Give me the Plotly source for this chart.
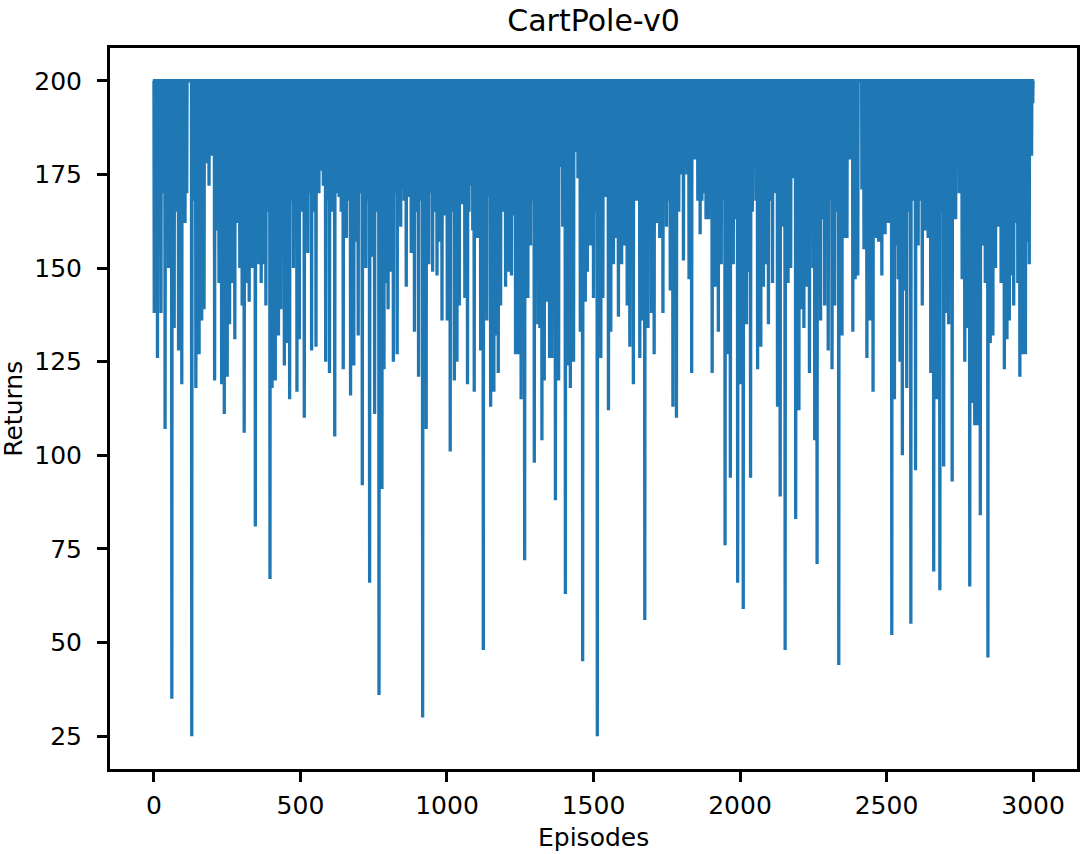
import plotly.graph_objects as go

# CartPole-v0 training returns.
# The episode return is capped at 200; the lists below hold the episodes
# that fell short of the cap and the return they reached.
MAX_RETURN = 200
N_EPISODES = 3000

dip_episodes = [
    1, 12, 24, 38, 50, 61, 69, 77, 84, 95, 106, 129, 143, 154, 163, 171, 180, 188, 197,
    207, 216, 222, 231, 240, 250, 258, 267, 276, 285, 293, 301, 308, 316, 325, 335, 340,
    346, 358, 366, 374, 382, 396, 403, 414, 425, 433, 445, 454, 463, 476, 488, 496,
    513, 525, 538, 553, 563, 570, 586, 599, 617, 632, 646, 657, 671, 682, 689, 697,
    711, 723, 736, 745, 753, 768, 778, 785, 793, 799, 806, 817, 830, 842, 847, 861,
    872, 878, 889, 903, 917, 929, 938, 951, 966, 974, 983, 993, 1001,
    1011, 1025, 1034, 1042, 1053, 1061, 1070, 1093, 1104, 1115, 1124, 1136, 1140, 1149,
    1160, 1169, 1175, 1183, 1200, 1211, 1220, 1226, 1234, 1242, 1253, 1265, 1276, 1285,
    1298, 1310, 1317, 1324, 1332, 1339, 1350, 1358, 1370, 1381, 1389, 1395, 1404, 1412,
    1421, 1432, 1441, 1447, 1455, 1463, 1472, 1479, 1489, 1500, 1513,
    1525, 1532, 1539, 1551, 1559, 1568, 1577, 1585, 1596, 1607, 1615, 1624, 1636, 1647,
    1658, 1666, 1675, 1686, 1698, 1707, 1718, 1726, 1737, 1749, 1762, 1771, 1783, 1800,
    1807, 1819, 1826, 1835, 1845, 1856, 1864, 1884, 1893, 1905, 1916, 1926, 1936, 1949,
    1958, 1967, 1977, 1984, 1992, 2001, 2011,
    2022, 2026, 2036, 2060, 2071, 2080, 2088, 2097, 2111, 2128, 2137, 2147, 2154, 2164,
    2173, 2181, 2190, 2201, 2209, 2218, 2229, 2237, 2249, 2255, 2263, 2275, 2283, 2289,
    2301, 2314, 2323, 2337, 2348, 2357, 2365, 2376, 2385, 2393, 2402, 2416, 2423, 2433,
    2444, 2454, 2465, 2473, 2484, 2495, 2506, 2518,
    2527, 2535, 2540, 2546, 2554, 2561, 2569, 2583, 2599, 2608, 2622, 2631, 2637, 2642,
    2651, 2661, 2671, 2682, 2695, 2705, 2712, 2724, 2736, 2758, 2767, 2776, 2784, 2792,
    2801, 2810, 2820, 2829, 2837, 2846, 2854, 2863, 2872, 2883, 2891, 2902, 2911, 2919,
    2927, 2934, 2942, 2948, 2955, 2965, 2974, 2979, 2987, 2995, 2999,
]

dip_returns = [
    138, 126, 138, 107, 150, 35, 134, 165, 128, 119, 162, 25, 118, 127, 136, 139, 178, 172, 180,
    120, 160, 146, 119, 111, 121, 135, 146, 131, 162, 150, 140, 106, 146, 141, 150, 157,
    81, 151, 146, 151, 140, 67, 118, 120, 132, 139, 124, 130, 115, 150, 117, 131,
    110, 154, 128, 129, 170, 176, 125, 122, 105, 169, 123, 158, 116, 124, 157, 132,
    92, 150, 66, 153, 111, 36, 91, 123, 146, 139, 149, 125, 127, 161, 171, 145,
    169, 154, 133, 121, 30, 107, 151, 149, 148, 157, 136, 164, 136,
    101, 120, 125, 140, 167, 142, 119, 117, 158, 128, 48, 136, 169, 113,
    117, 132, 122, 140, 145, 149, 148, 164, 127, 127, 115, 72, 142, 156,
    98, 135, 134, 104, 120, 141, 126, 126, 88, 120, 177, 161, 63, 124,
    118, 125, 181, 174, 133, 45, 141, 149, 156, 142, 25,
    126, 142, 169, 112, 133, 151, 158, 137, 151, 156, 140, 129, 119, 168,
    126, 136, 56, 134, 138, 127, 162, 158, 138, 161, 144, 113, 110, 175,
    152, 175, 147, 122, 179, 168, 159, 163, 163, 122, 145, 133, 151, 76,
    127, 94, 151, 163, 66, 119, 59,
    135, 149, 94, 123, 129, 145, 151, 135, 146, 113, 89, 161, 48, 146,
    150, 174, 83, 112, 139, 134, 145, 122, 150, 104, 71, 136, 163, 140,
    128, 123, 140, 44, 132, 158, 158, 179, 133, 147, 148, 171, 155, 126,
    136, 117, 158, 157, 148, 159, 162, 52,
    115, 156, 147, 125, 100, 144, 118, 55, 96, 156, 140, 160, 171, 158,
    122, 69, 115, 64, 97, 138, 135, 93, 163, 147, 125, 134, 65, 114,
    108, 108, 84, 156, 146, 46, 130, 132, 150, 161, 146, 123, 131, 136,
    148, 140, 162, 146, 121, 127, 127, 157, 151, 180, 194,
]

# shallower short episodes hidden inside the solid band near the cap
band_episodes = [
    31, 112, 136, 389, 470, 504, 531, 545, 578, 592, 608, 624, 639, 664, 704, 729,
    760, 823, 854, 896, 910, 944, 958, 1018, 1075, 1082, 1088, 1194, 1291, 1506,
    1755, 1791, 1870, 1880, 1942, 2042, 2054, 2104, 2116, 2307, 2330, 2576, 2591,
    2615, 2688, 2748,
]
band_returns = [
    170, 170, 168, 165, 168, 165, 170, 165, 172, 168, 165, 170, 165, 168, 170, 168,
    165, 170, 168, 165, 168, 170, 165, 165, 165, 172, 160, 165, 168, 165,
    168, 165, 168, 170, 168, 165, 168, 168, 170, 168, 165, 165, 168,
    168, 165, 170,
]

x_ticks = [0, 500, 1000, 1500, 2000, 2500, 3000]
y_ticks = [25, 50, 75, 100, 125, 150, 175, 200]

short_eps = sorted(zip(dip_episodes + band_episodes, dip_returns + band_returns))

# episodes either side of a short episode sit at the cap
episodes = []
returns = []
for ep, ret in short_eps:
    episodes += [ep - 1, ep, ep + 1]
    returns += [MAX_RETURN, ret, MAX_RETURN]

FONT = "DejaVu Sans"

fig = go.Figure()
fig.add_trace(go.Scatter(
    x=episodes, y=returns,
    mode="lines",
    line=dict(color="#1f77b4", width=3.3),
    showlegend=False,
))

# matplotlib-like 5% margins around the data
x_pad = 0.05 * N_EPISODES
y_pad = 0.05 * (MAX_RETURN - min(dip_returns))

axis_style = dict(
    showgrid=False, zeroline=False,
    showline=True, linecolor="black", linewidth=3, mirror=True,
    ticks="outside", ticklen=10, tickwidth=2.5, tickcolor="black",
    tickfont=dict(family=FONT, size=25, color="black"),
)
fig.update_xaxes(range=[-x_pad, N_EPISODES + x_pad], tickvals=x_ticks,
                 ticklabelstandoff=2, **axis_style)
fig.update_yaxes(range=[min(dip_returns) - y_pad, MAX_RETURN + y_pad], tickvals=y_ticks,
                 ticklabelstandoff=10, **axis_style)

fig.update_layout(
    width=1092, height=854,
    margin=dict(l=110, r=12, t=48, b=85),
    paper_bgcolor="white", plot_bgcolor="white",
    title=dict(text="CartPole-v0", x=0.5, xref="paper", xanchor="center",
               y=1 - 20 / 854, yref="container", yanchor="middle",
               font=dict(family=FONT, size=30, color="black")),
    annotations=[
        dict(text="Episodes", xref="paper", yref="paper", x=0.5, y=-0.0957,
             xanchor="center", yanchor="middle", showarrow=False,
             font=dict(family=FONT, size=25, color="black")),
        dict(text="Returns", xref="paper", yref="paper", x=-0.1, y=0.5,
             xanchor="center", yanchor="middle", textangle=-90, showarrow=False,
             font=dict(family=FONT, size=25, color="black")),
    ],
)

# drop the browser's default page margin so the figure sits at the corner
fig.write_html("out.html", config={"displayModeBar": False},
               post_script="document.body.style.margin='0';")
